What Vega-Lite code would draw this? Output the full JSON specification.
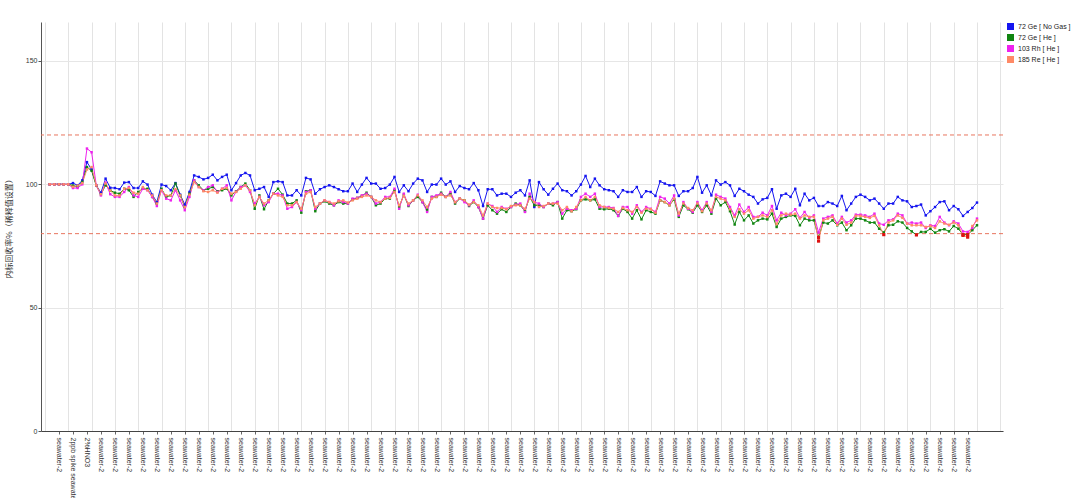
{
  "$schema": "https://vega.github.io/schema/vega-lite/v6.json",
  "width": 962,
  "height": 409,
  "autosize": "none",
  "padding": {"left": 41, "top": 22, "right": 77, "bottom": 67},
  "background": "white",
  "config": {
    "view": {"stroke": null},
    "font": "Liberation Sans",
    "legend": {
      "title": null, "orient": "none", "legendX": 966, "legendY": 1,
      "symbolType": "square", "symbolSize": 49, "symbolStrokeWidth": 0,
      "labelFontSize": 7, "labelColor": "#222222", "labelOffset": 4, "rowPadding": 3,
      "padding": 0
    }
  },
  "datasets": {
    "istd": [
      {"n":1,"ge":100,"geh":100,"rh":100,"re":100},
      {"n":2,"ge":100,"geh":100,"rh":100,"re":100},
      {"n":3,"ge":100,"geh":100,"rh":100,"re":100},
      {"n":4,"ge":100,"geh":100,"rh":100,"re":100},
      {"n":5,"ge":100,"geh":100,"rh":100,"re":100},
      {"n":6,"ge":100.5,"geh":99.5,"rh":98.5,"re":99},
      {"n":7,"ge":99.6,"geh":99,"rh":98.5,"re":99.5},
      {"n":8,"ge":101.6,"geh":101,"rh":100,"re":100.5},
      {"n":9,"ge":109,"geh":107,"rh":114.5,"re":106},
      {"n":10,"ge":106,"geh":105.5,"rh":113,"re":107},
      {"n":11,"ge":99.6,"geh":99.5,"rh":99.6,"re":99.6},
      {"n":12,"ge":96.6,"geh":96,"rh":95.5,"re":96},
      {"n":13,"ge":102.3,"geh":99.6,"rh":100.7,"re":100.3},
      {"n":14,"ge":98.6,"geh":97.5,"rh":96,"re":97.5},
      {"n":15,"ge":98.5,"geh":96.6,"rh":94.9,"re":95.5},
      {"n":16,"ge":98,"geh":96.2,"rh":94.9,"re":95.5},
      {"n":17,"ge":100.7,"geh":98.2,"rh":96.9,"re":98.2},
      {"n":18,"ge":100.9,"geh":97.6,"rh":98.9,"re":98.5},
      {"n":19,"ge":98.5,"geh":94.9,"rh":95.5,"re":96.6},
      {"n":20,"ge":98.5,"geh":96.9,"rh":94.9,"re":96.2},
      {"n":21,"ge":101.2,"geh":98.2,"rh":98.2,"re":98.9},
      {"n":22,"ge":99.9,"geh":98.2,"rh":97.6,"re":97.6},
      {"n":23,"ge":95.8,"geh":94.9,"rh":94.9,"re":95.5},
      {"n":24,"ge":92.8,"geh":92.2,"rh":91.2,"re":92.2},
      {"n":25,"ge":99.9,"geh":98.2,"rh":97.6,"re":97.6},
      {"n":26,"ge":99.3,"geh":94.9,"rh":94.2,"re":95.5},
      {"n":27,"ge":97.6,"geh":95.5,"rh":93.5,"re":95.5},
      {"n":28,"ge":100.5,"geh":100.3,"rh":97.6,"re":98},
      {"n":29,"ge":95.8,"geh":95.5,"rh":93.5,"re":95.5},
      {"n":30,"ge":91.8,"geh":90.8,"rh":89.5,"re":90.8},
      {"n":31,"ge":96.9,"geh":96.2,"rh":94.9,"re":95.8},
      {"n":32,"ge":103.6,"geh":101.6,"rh":101.6,"re":100.9},
      {"n":33,"ge":103,"geh":99.6,"rh":98.9,"re":98.9},
      {"n":34,"ge":102,"geh":97.6,"rh":97.6,"re":97.2},
      {"n":35,"ge":102.6,"geh":98.2,"rh":98.9,"re":96.9},
      {"n":36,"ge":103.9,"geh":98.9,"rh":99.6,"re":97.6},
      {"n":37,"ge":101.6,"geh":97.2,"rh":96.9,"re":96.6},
      {"n":38,"ge":103,"geh":97.6,"rh":98.2,"re":98.2},
      {"n":39,"ge":103.9,"geh":98.2,"rh":99.6,"re":98.5},
      {"n":40,"ge":97.6,"geh":95.5,"rh":93.5,"re":96.2},
      {"n":41,"ge":100.5,"geh":97.2,"rh":97,"re":96.9},
      {"n":42,"ge":103.6,"geh":98.9,"rh":98.9,"re":98.2},
      {"n":43,"ge":104.6,"geh":100.3,"rh":99.6,"re":99.6},
      {"n":44,"ge":103.6,"geh":97.6,"rh":96.9,"re":97.6},
      {"n":45,"ge":97.6,"geh":90.1,"rh":92.2,"re":91.5},
      {"n":46,"ge":98.2,"geh":95.5,"rh":94.9,"re":94.9},
      {"n":47,"ge":98.9,"geh":89.9,"rh":91.5,"re":92.2},
      {"n":48,"ge":94.9,"geh":93.5,"rh":92.8,"re":93.5},
      {"n":49,"ge":100.9,"geh":96.2,"rh":96.2,"re":96.2},
      {"n":50,"ge":101.2,"geh":98.2,"rh":96.2,"re":95.5},
      {"n":51,"ge":100.9,"geh":95.8,"rh":95.5,"re":94.9},
      {"n":52,"ge":95.5,"geh":92.2,"rh":90.1,"re":91.5},
      {"n":53,"ge":95.5,"geh":92.2,"rh":90.8,"re":91.5},
      {"n":54,"ge":97.6,"geh":93.5,"rh":92.8,"re":92.8},
      {"n":55,"ge":95.5,"geh":88.5,"rh":89.5,"re":90.1},
      {"n":56,"ge":102.6,"geh":97.2,"rh":96.9,"re":96.2},
      {"n":57,"ge":102,"geh":97.6,"rh":97.6,"re":96.9},
      {"n":58,"ge":96.2,"geh":89.1,"rh":90.1,"re":90.8},
      {"n":59,"ge":98,"geh":92.2,"rh":92.2,"re":92.2},
      {"n":60,"ge":98.9,"geh":93.1,"rh":93.5,"re":93.5},
      {"n":61,"ge":99.6,"geh":92.2,"rh":92.8,"re":92.8},
      {"n":62,"ge":98.9,"geh":91.5,"rh":91.5,"re":92.2},
      {"n":63,"ge":98,"geh":92.8,"rh":93.5,"re":93.1},
      {"n":64,"ge":97.2,"geh":92.2,"rh":92.8,"re":93.5},
      {"n":65,"ge":97.2,"geh":92.2,"rh":92.2,"re":92.6},
      {"n":66,"ge":100.3,"geh":93.9,"rh":94.2,"re":93.5},
      {"n":67,"ge":96.9,"geh":94.5,"rh":94.5,"re":94.2},
      {"n":68,"ge":99.9,"geh":95.3,"rh":95.5,"re":94.9},
      {"n":69,"ge":102.6,"geh":96.6,"rh":96.2,"re":95.5},
      {"n":70,"ge":100.3,"geh":94.9,"rh":94.9,"re":94.9},
      {"n":71,"ge":100.3,"geh":91.5,"rh":92.2,"re":93.5},
      {"n":72,"ge":98.2,"geh":92.2,"rh":92.8,"re":92.8},
      {"n":73,"ge":98.5,"geh":94.2,"rh":94.9,"re":94.2},
      {"n":74,"ge":99.9,"geh":94.2,"rh":94.9,"re":94.5},
      {"n":75,"ge":103,"geh":97.6,"rh":98.2,"re":96.9},
      {"n":76,"ge":96.9,"geh":90.8,"rh":90.1,"re":91.5},
      {"n":77,"ge":99.6,"geh":95.8,"rh":96.2,"re":95.3},
      {"n":78,"ge":97.2,"geh":91.2,"rh":91.5,"re":92.2},
      {"n":79,"ge":100.3,"geh":93.5,"rh":93.5,"re":93.5},
      {"n":80,"ge":102.3,"geh":94.9,"rh":95.8,"re":95.5},
      {"n":81,"ge":101.6,"geh":92.8,"rh":92.8,"re":93.5},
      {"n":82,"ge":96.9,"geh":89.5,"rh":88.8,"re":90.8},
      {"n":83,"ge":99.9,"geh":94.9,"rh":94.9,"re":94.2},
      {"n":84,"ge":99.9,"geh":94.9,"rh":95.5,"re":94.9},
      {"n":85,"ge":102.3,"geh":96.6,"rh":96.2,"re":95.8},
      {"n":86,"ge":99.9,"geh":94.9,"rh":94.9,"re":94.9},
      {"n":87,"ge":101.2,"geh":96.2,"rh":96.9,"re":95.5},
      {"n":88,"ge":96.9,"geh":92.2,"rh":92.8,"re":92.8},
      {"n":89,"ge":99.3,"geh":94.2,"rh":94.2,"re":94.2},
      {"n":90,"ge":98.5,"geh":93.5,"rh":92.8,"re":93.5},
      {"n":91,"ge":98,"geh":91.2,"rh":91.5,"re":91.8},
      {"n":92,"ge":100.5,"geh":92.8,"rh":93.5,"re":92.8},
      {"n":93,"ge":97.6,"geh":90.8,"rh":90.8,"re":91.5},
      {"n":94,"ge":91.2,"geh":86.1,"rh":86.1,"re":87.4},
      {"n":95,"ge":98,"geh":91.5,"rh":92.2,"re":92.2},
      {"n":96,"ge":98,"geh":89.5,"rh":91.2,"re":90.8},
      {"n":97,"ge":95.5,"geh":88.1,"rh":88.8,"re":90.4},
      {"n":98,"ge":96.2,"geh":89.9,"rh":90.8,"re":90.4},
      {"n":99,"ge":96.2,"geh":88.8,"rh":90.1,"re":89.9},
      {"n":100,"ge":94.9,"geh":90.8,"rh":90.8,"re":91.2},
      {"n":101,"ge":96.6,"geh":92.2,"rh":91.8,"re":91.5},
      {"n":102,"ge":97.6,"geh":91.5,"rh":92.2,"re":91.5},
      {"n":103,"ge":95.5,"geh":89.1,"rh":88.8,"re":90.1},
      {"n":104,"ge":101.6,"geh":94.9,"rh":96.2,"re":94.2},
      {"n":105,"ge":90.8,"geh":91.5,"rh":92.8,"re":92.8},
      {"n":106,"ge":100.9,"geh":91.5,"rh":92.2,"re":90.8},
      {"n":107,"ge":98,"geh":90.8,"rh":90.8,"re":91.2},
      {"n":108,"ge":95.8,"geh":92.2,"rh":92.2,"re":92.2},
      {"n":109,"ge":98.2,"geh":91.5,"rh":92.2,"re":92.2},
      {"n":110,"ge":100.3,"geh":92.8,"rh":92.8,"re":92.2},
      {"n":111,"ge":97.6,"geh":86.1,"rh":88.1,"re":89.5},
      {"n":112,"ge":97.2,"geh":89.5,"rh":90.1,"re":90.8},
      {"n":113,"ge":95.5,"geh":89.1,"rh":89.5,"re":89.1},
      {"n":114,"ge":97.2,"geh":89.9,"rh":90.1,"re":90.8},
      {"n":115,"ge":99.9,"geh":93.5,"rh":94.9,"re":93.5},
      {"n":116,"ge":103.4,"geh":93.9,"rh":96.2,"re":94.9},
      {"n":117,"ge":98.9,"geh":93.5,"rh":94.9,"re":93.5},
      {"n":118,"ge":102.3,"geh":93.9,"rh":96.2,"re":94.9},
      {"n":119,"ge":99.6,"geh":90.1,"rh":90.8,"re":91.5},
      {"n":120,"ge":98,"geh":89.9,"rh":90.8,"re":90.8},
      {"n":121,"ge":97.6,"geh":90.1,"rh":90.8,"re":90.4},
      {"n":122,"ge":97.2,"geh":89.5,"rh":90.4,"re":90.1},
      {"n":123,"ge":94.9,"geh":87.2,"rh":87.2,"re":88.8},
      {"n":124,"ge":97.6,"geh":90.1,"rh":90.8,"re":90.4},
      {"n":125,"ge":96.9,"geh":88.8,"rh":90.8,"re":89.5},
      {"n":126,"ge":96.9,"geh":86.1,"rh":88.1,"re":88.8},
      {"n":127,"ge":98.9,"geh":89.5,"rh":91.5,"re":90.8},
      {"n":128,"ge":94.9,"geh":85.8,"rh":88.8,"re":88.5},
      {"n":129,"ge":97.2,"geh":89.5,"rh":90.8,"re":90.1},
      {"n":130,"ge":96.9,"geh":88.8,"rh":90.1,"re":89.9},
      {"n":131,"ge":95.3,"geh":88.1,"rh":88.8,"re":88.5},
      {"n":132,"ge":101.2,"geh":93.5,"rh":94.9,"re":93.5},
      {"n":133,"ge":100.3,"geh":92.8,"rh":94.2,"re":92.8},
      {"n":134,"ge":99.6,"geh":91.5,"rh":92.2,"re":91.5},
      {"n":135,"ge":99.6,"geh":93.9,"rh":95.5,"re":94.2},
      {"n":136,"ge":95.3,"geh":86.8,"rh":87.4,"re":88.1},
      {"n":137,"ge":97.2,"geh":91.5,"rh":92.8,"re":92.2},
      {"n":138,"ge":97.2,"geh":89.9,"rh":90.1,"re":90.4},
      {"n":139,"ge":98.5,"geh":88.5,"rh":88.8,"re":89.5},
      {"n":140,"ge":103,"geh":91.5,"rh":92.8,"re":92.2},
      {"n":141,"ge":96.6,"geh":88.8,"rh":89.5,"re":89.1},
      {"n":142,"ge":99.6,"geh":91.5,"rh":92.8,"re":92.2},
      {"n":143,"ge":95.5,"geh":88.1,"rh":88.8,"re":89.5},
      {"n":144,"ge":101.6,"geh":94.2,"rh":95.8,"re":94.9},
      {"n":145,"ge":99.9,"geh":91.5,"rh":94.9,"re":94.2},
      {"n":146,"ge":100.9,"geh":92.8,"rh":94.2,"re":93.5},
      {"n":147,"ge":99.6,"geh":89.1,"rh":90.8,"re":89.9},
      {"n":148,"ge":95.3,"geh":83.7,"rh":87.4,"re":86.8},
      {"n":149,"ge":98.2,"geh":88.8,"rh":91.8,"re":89.9},
      {"n":150,"ge":97.2,"geh":85.4,"rh":88.8,"re":88.1},
      {"n":151,"ge":95.8,"geh":87.4,"rh":90.8,"re":89.5},
      {"n":152,"ge":94.9,"geh":84.1,"rh":86.8,"re":86.1},
      {"n":153,"ge":92.2,"geh":85.4,"rh":86.8,"re":86.8},
      {"n":154,"ge":93.9,"geh":86.1,"rh":88.5,"re":87.4},
      {"n":155,"ge":94.5,"geh":85.8,"rh":87.4,"re":86.8},
      {"n":156,"ge":98,"geh":88.1,"rh":91.2,"re":89.5},
      {"n":157,"ge":90.1,"geh":82.7,"rh":85.4,"re":83.9},
      {"n":158,"ge":95.5,"geh":86.1,"rh":88.5,"re":87.4},
      {"n":159,"ge":96.2,"geh":86.8,"rh":87.4,"re":88.1},
      {"n":160,"ge":94.9,"geh":87.4,"rh":88.1,"re":87.7},
      {"n":161,"ge":98.2,"geh":87.2,"rh":89.9,"re":88.1},
      {"n":162,"ge":91.5,"geh":83.4,"rh":86.4,"re":86.1},
      {"n":163,"ge":96.2,"geh":86.1,"rh":88.8,"re":87.4},
      {"n":164,"ge":93.5,"geh":85.4,"rh":86.4,"re":86.8},
      {"n":165,"ge":94.5,"geh":85.4,"rh":87.4,"re":86.8},
      {"n":166,"ge":91.2,"geh":78.5,"rh":80.5,"re":77},
      {"n":167,"ge":91.2,"geh":84.5,"rh":86.1,"re":85.4},
      {"n":168,"ge":92.8,"geh":84.1,"rh":86.8,"re":86.1},
      {"n":169,"ge":92.2,"geh":85.4,"rh":87.4,"re":86.8},
      {"n":170,"ge":91.2,"geh":83.4,"rh":84.1,"re":83.6},
      {"n":171,"ge":95.3,"geh":84.5,"rh":86.8,"re":86.1},
      {"n":172,"ge":89.5,"geh":81.4,"rh":84.5,"re":83.6},
      {"n":173,"ge":92.2,"geh":83.4,"rh":85.4,"re":84.5},
      {"n":174,"ge":94.9,"geh":86.1,"rh":87.7,"re":87.2},
      {"n":175,"ge":95.8,"geh":86.1,"rh":87.7,"re":87.2},
      {"n":176,"ge":94.9,"geh":85.4,"rh":87.4,"re":86.8},
      {"n":177,"ge":93.5,"geh":84.5,"rh":86.8,"re":86.4},
      {"n":178,"ge":94.2,"geh":84.5,"rh":88.1,"re":87.2},
      {"n":179,"ge":92.2,"geh":82,"rh":84.1,"re":83.4},
      {"n":180,"ge":90.1,"geh":80.5,"rh":83.6,"re":79.6},
      {"n":181,"ge":92.2,"geh":83.4,"rh":85.4,"re":84.5},
      {"n":182,"ge":92.2,"geh":83.6,"rh":85.8,"re":85.4},
      {"n":183,"ge":94.9,"geh":85,"rh":88.1,"re":87.4},
      {"n":184,"ge":93.5,"geh":84.5,"rh":87.4,"re":86.4},
      {"n":185,"ge":93.1,"geh":82.3,"rh":84.1,"re":84.1},
      {"n":186,"ge":90.8,"geh":80.9,"rh":84.5,"re":83.4},
      {"n":187,"ge":91.2,"geh":79.5,"rh":84.1,"re":83.4},
      {"n":188,"ge":91.8,"geh":80.7,"rh":84.5,"re":83.4},
      {"n":189,"ge":87.4,"geh":80.7,"rh":82.3,"re":82.7},
      {"n":190,"ge":89.1,"geh":82,"rh":83.4,"re":83.1},
      {"n":191,"ge":90.8,"geh":80.4,"rh":83.1,"re":82.3},
      {"n":192,"ge":92.8,"geh":81.4,"rh":86.8,"re":85},
      {"n":193,"ge":93.1,"geh":81.8,"rh":84.5,"re":84.1},
      {"n":194,"ge":89.5,"geh":80.9,"rh":83.4,"re":83.6},
      {"n":195,"ge":91.2,"geh":83.1,"rh":85,"re":84.5},
      {"n":196,"ge":89.9,"geh":82,"rh":84.1,"re":83.4},
      {"n":197,"ge":87.2,"geh":79.6,"rh":80.9,"re":79.3},
      {"n":198,"ge":88.8,"geh":79.6,"rh":80.7,"re":78.6},
      {"n":199,"ge":90.4,"geh":81.4,"rh":82.3,"re":83.1},
      {"n":200,"ge":92.6,"geh":83.4,"rh":86.1,"re":85.4}
    ],
    "series": [
      {"k": "ge", "name": "72 Ge [ No Gas ]"},
      {"k": "geh", "name": "72 Ge [ He ]"},
      {"k": "rh", "name": "103 Rh [ He ]"},
      {"k": "re", "name": "185 Re [ He ]"}
    ],
    "limits": [{"r": 80}, {"r": 120}]
  },
  "resolve": {"axis": {"x": "independent"}},
  "layer": [
    {
      "data": {"name": "istd"},
      "transform": [
        {"fold": ["ge", "geh", "rh", "re"], "as": ["k", "v"]},
        {"lookup": "k", "from": {"data": {"name": "series"}, "key": "k", "fields": ["name"]}}
      ],
      "mark": {"type": "line", "strokeWidth": 1},
      "encoding": {
        "x": {
          "field": "n", "type": "quantitative",
          "scale": {"domain": [-0.86, 205.58], "nice": false, "zero": false},
          "axis": {
            "orient": "bottom", "title": null, "labels": false, "ticks": false, "domain": false,
            "grid": true, "gridColor": "#e3e3e3", "gridWidth": 1,
            "values": [0,5,10,15,20,25,30,35,40,45,50,55,60,65,70,75,80,85,90,95,100,105,110,115,120,125,130,135,140,145,150,155,160,165,170,175,180,185,190,195,200,205]
          }
        },
        "y": {
          "field": "v", "type": "quantitative",
          "scale": {"domain": [0, 165.8], "nice": false, "zero": true},
          "axis": {
            "title": "内标回收率%（稀释值设置）",
            "titleFont": "Noto Sans CJK SC", "titleFontSize": 8, "titleFontWeight": "normal",
            "titleColor": "#333333", "titlePadding": 12,
            "values": [0, 50, 100, 150],
            "labelFontSize": 7, "labelColor": "#333333", "labelPadding": 1,
            "tickSize": 3, "tickColor": "#555555",
            "domainColor": "#555555", "grid": true, "gridColor": "#e6e6e6"
          }
        },
        "color": {
          "field": "name", "type": "nominal",
          "scale": {
            "domain": ["72 Ge [ No Gas ]", "72 Ge [ He ]", "103 Rh [ He ]", "185 Re [ He ]"],
            "range": ["#1515f0", "#108510", "#ee22ee", "#ff8a66"]
          }
        },
        "detail": {"field": "name", "type": "nominal"}
      }
    },
    {
      "data": {"name": "limits"},
      "mark": {"type": "rule", "strokeDash": [4, 3], "strokeWidth": 1, "color": "#e8755f"},
      "encoding": {
        "y": {"field": "r", "type": "quantitative"}
      }
    },
    {
      "data": {"name": "istd"},
      "transform": [
        {"fold": ["ge", "geh", "rh", "re"], "as": ["k", "v"]},
        {"lookup": "k", "from": {"data": {"name": "series"}, "key": "k", "fields": ["name"]}}
      ],
      "mark": {"type": "square", "size": 6, "strokeWidth": 0, "opacity": 1},
      "encoding": {
        "x": {
          "field": "n", "type": "quantitative",
          "axis": {
            "orient": "bottom", "title": null, "grid": false,
            "values": [3,6,9,12,15,18,21,24,27,30,33,36,39,42,45,48,51,54,57,60,63,66,69,72,75,78,81,84,87,90,93,96,99,102,105,108,111,114,117,120,123,126,129,132,135,138,141,144,147,150,153,156,159,162,165,168,171,174,177,180,183,186,189,192,195,198],
            "labelExpr": "datum.value == 6 ? '2ppb spike seawater-2' : datum.value == 9 ? '2%HNO3' : 'seawater-2'",
            "labelAngle": 90, "labelAlign": "left", "labelBaseline": "middle",
            "labelFontSize": 7, "labelColor": "#333333", "labelPadding": 3,
            "labelOverlap": false, "labelBound": false, "labelFlush": false,
            "tickSize": 3, "tickColor": "#666666", "domainColor": "#444444"
          }
        },
        "y": {"field": "v", "type": "quantitative"},
        "color": {"field": "name", "type": "nominal"}
      }
    },
    {
      "data": {"name": "istd"},
      "transform": [
        {"fold": ["ge", "geh", "rh", "re"], "as": ["k", "v"]},
        {"filter": "datum.v < 80"}
      ],
      "mark": {"type": "square", "size": 10, "strokeWidth": 0, "color": "#dd1111", "opacity": 1},
      "encoding": {
        "x": {"field": "n", "type": "quantitative", "axis": null},
        "y": {"field": "v", "type": "quantitative"}
      }
    }
  ]
}
